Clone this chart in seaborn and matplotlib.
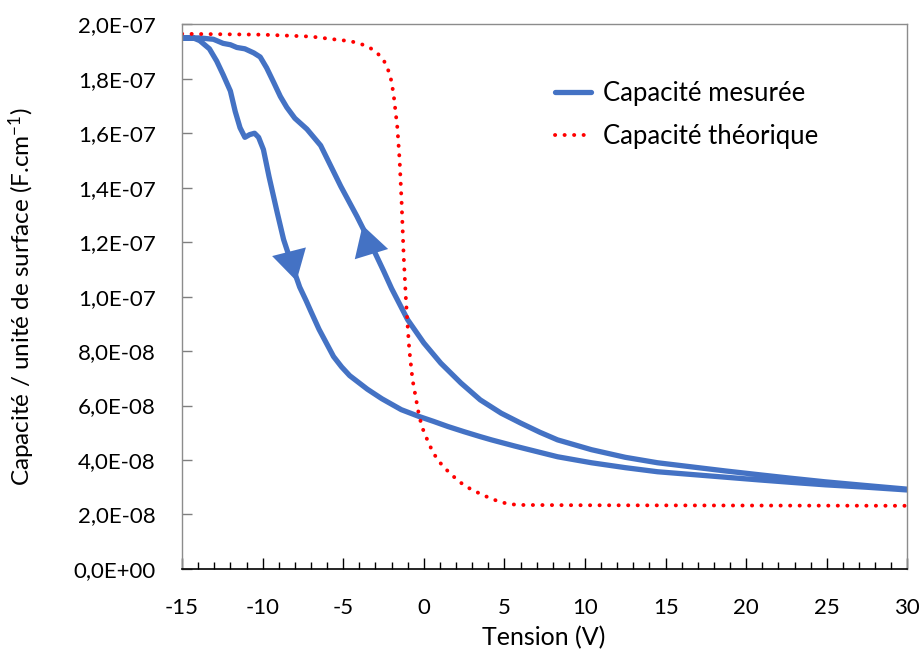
import numpy as np
import pandas as pd
import matplotlib
matplotlib.use("Agg")
import matplotlib.pyplot as plt
from matplotlib.ticker import FuncFormatter, MultipleLocator
import seaborn as sns

# Measured C-V loop (capacitance in units of 1e-8 F.cm-1)
# sweep towards positive bias
v_down = [-15.0, -14.3, -13.9, -13.3, -12.85, -12.45, -12.0, -11.7, -11.4, -11.1,
          -10.8, -10.5, -10.25, -9.95, -9.6, -9.1, -8.7, -8.2, -7.7, -7.3,
          -7.0, -6.5, -5.6, -5.1, -4.6, -3.5, -2.6, -1.4, -0.3, 0.6, 1.5,
          2.5, 3.5, 4.2, 5.6, 6.2, 8.3, 10.4, 12.5, 14.5, 16.6,
          18.7, 20.8, 22.8, 24.9, 27.5, 30.0]
c_down = [19.5, 19.5, 19.4, 19.1, 18.65, 18.15, 17.55, 16.8, 16.2, 15.85,
          15.95, 16.0, 15.85, 15.4, 14.4, 13.1, 12.1, 11.2, 10.35, 9.85,
          9.45, 8.8, 7.8, 7.42, 7.1, 6.6, 6.25, 5.85, 5.6, 5.42, 5.23,
          5.04, 4.86, 4.74, 4.52, 4.43, 4.12, 3.9, 3.72, 3.57, 3.47,
          3.37, 3.27, 3.18, 3.09, 3.0, 2.9]

# sweep back towards negative bias
v_up = [30.0, 27.5, 24.9, 22.8, 20.8, 18.7, 16.6, 14.5, 12.5, 10.4,
        8.3, 7.2, 6.0, 4.8, 3.5, 2.3, 1.05, 0.0, -1.0, -2.0,
        -2.5, -3.3, -4.15, -5.15, -5.9, -6.4, -7.25, -8.0, -8.5, -8.9,
        -9.3, -9.75, -10.15, -10.55, -11.1, -11.6, -12.0, -12.45, -13.05, -13.9,
        -15.0]
c_up = [2.93, 3.06, 3.2, 3.33, 3.46, 3.6, 3.75, 3.9, 4.1, 4.38,
        4.74, 5.02, 5.36, 5.72, 6.21, 6.83, 7.56, 8.3, 9.15, 10.3,
        10.95, 11.95, 12.95, 14.05, 14.95, 15.55, 16.15, 16.55, 16.95, 17.35,
        17.85, 18.4, 18.8, 18.95, 19.1, 19.15, 19.25, 19.3, 19.45, 19.5,
        19.5]

# Theoretical C-V curve
v_th = [-15.0, -10.0, -7.0, -5.6, -4.55, -3.9, -3.3, -2.9, -2.5, -2.2,
        -2.0, -1.85, -1.64, -1.5, -1.38, -1.25, -1.12, -1.0, -0.9, -0.7,
        -0.5, -0.3, -0.1, 0.1, 0.55, 0.9, 1.3, 1.7, 2.1, 2.5,
        3.0, 3.55, 4.1, 4.7, 5.3, 6.0, 10.0, 20.0, 30.0]
c_th = [19.65, 19.62, 19.55, 19.45, 19.38, 19.28, 19.12, 18.95, 18.7, 18.3,
        17.9, 17.3, 16.2, 15.0, 13.5, 11.5, 10.0, 8.9, 8.05, 6.95,
        6.3, 5.65, 5.2, 4.9, 4.3, 3.98, 3.7, 3.48, 3.25, 3.08,
        2.9, 2.75, 2.6, 2.47, 2.38, 2.35, 2.34, 2.33, 2.32]

y_ticks = [0, 2e-8, 4e-8, 6e-8, 8e-8, 1e-7, 1.2e-7, 1.4e-7, 1.6e-7, 1.8e-7, 2e-7]
x_ticks = [-15, -10, -5, 0, 5, 10, 15, 20, 25, 30]

label_meas = "Capacité mesurée"
label_th = "Capacité théorique"

# sweep direction markers: (V, C) position and a second point giving the heading
arrow_down = [(-8.22, 11.32), (-7.97, 10.74)]
arrow_up = [(-3.48, 11.93), (-3.75, 12.45)]

scale = 1e-8
df_meas = pd.DataFrame({"V": v_down + v_up,
                        "C": np.array(c_down + c_up) * scale,
                        "serie": label_meas})
df_th = pd.DataFrame({"V": v_th, "C": np.array(c_th) * scale, "serie": label_th})

sns.set_theme(style="white")
plt.rcParams["font.family"] = ["Lato", "DejaVu Sans"]
plt.rcParams["mathtext.default"] = "regular"
plt.rcParams["axes.unicode_minus"] = False
plt.rcParams["text.color"] = "black"
plt.rcParams["axes.labelcolor"] = "black"
plt.rcParams["xtick.labelcolor"] = "black"
plt.rcParams["ytick.labelcolor"] = "black"

blue = "#4472C4"
red = "#FF0000"
dots = (0, (0.05, 2.4))

fig = plt.figure(figsize=(9.24, 6.57), dpi=100)
ax = fig.add_axes([0.197, 0.134, 0.785, 0.829])

sns.lineplot(data=df_meas, x="V", y="C", sort=False, estimator=None,
             color=blue, linewidth=3.8, label=label_meas, ax=ax)
sns.lineplot(data=df_th, x="V", y="C", sort=False, estimator=None,
             color=red, linewidth=2.8, label=label_th, ax=ax)
th_line = ax.get_lines()[1]
th_line.set_linestyle(dots)
th_line.set_dash_capstyle("round")

ax.set_xlim(-15, 30)
ax.set_ylim(0, 2e-7)

# Direction arrowheads, oriented along the curve in screen space
for (p0, p1) in (arrow_down, arrow_up):
    a = ax.transData.transform((p0[0], p0[1] * scale))
    b = ax.transData.transform((p1[0], p1[1] * scale))
    ang = np.degrees(np.arctan2(b[1] - a[1], b[0] - a[0])) - 90
    ax.plot([p0[0]], [p0[1] * scale], linestyle="none", marker=(3, 0, ang),
            markersize=29, color=blue, markeredgewidth=0)

ax.set_xticks(x_ticks)
ax.xaxis.set_minor_locator(MultipleLocator(1))
ax.set_yticks(y_ticks)
ax.yaxis.set_major_formatter(FuncFormatter(lambda v, p: f"{v:.1E}".replace(".", ",")))

ax.tick_params(axis="x", which="major", direction="in", length=8, width=1,
               color="black", labelcolor="black", labelsize=16, pad=21, bottom=True)
ax.tick_params(axis="x", which="minor", direction="in", length=5, width=1,
               color="black", bottom=True)
ax.tick_params(axis="y", which="major", direction="in", length=7, width=1,
               color="#7f7f7f", labelcolor="black", labelsize=16, pad=19, left=True)

for side in ["top", "right", "left"]:
    ax.spines[side].set_color("#8c8c8c")
    ax.spines[side].set_linewidth(1.0)
ax.spines["bottom"].set_color("black")
ax.spines["bottom"].set_linewidth(1.2)

ax.set_xlabel("Tension (V)", fontsize=18, color="black")
ax.set_ylabel("Capacité / unité de surface (F.cm$^{-1}$)", fontsize=17.5, color="black")
ax.xaxis.set_label_coords(0.499, -0.105)
ax.yaxis.set_label_coords(-0.2, 0.5)

leg = ax.legend(loc="upper left", bbox_to_anchor=(0.5, 0.915), frameon=False,
                fontsize=18.5, handlelength=1.4, handletextpad=0.47,
                labelspacing=0.7, borderaxespad=0, labelcolor="black")
leg.get_lines()[1].set_linestyle(dots)
leg.get_lines()[1].set_dash_capstyle("round")

fig.savefig("out.png", dpi=100, facecolor="white")
